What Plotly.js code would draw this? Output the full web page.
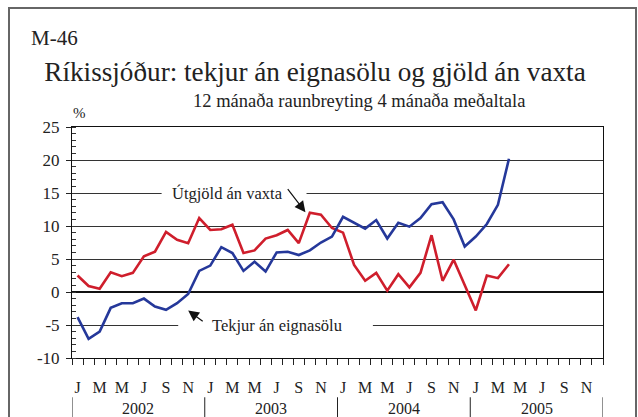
<!DOCTYPE html>
<html>
<head>
<meta charset="utf-8">
<script src="https://cdn.plot.ly/plotly-3.0.1.min.js"></script>
<style>
html,body{margin:0;padding:0;background:#fff;}
#chart{width:638px;height:417px;}
</style>
</head>
<body>
<div id="chart"></div>
<script>
// Months Jan 2002 .. Apr 2005 (index 0 = Jan 2002)
const monthIndex = [0,1,2,3,4,5,6,7,8,9,10,11,12,13,14,15,16,17,18,19,20,21,22,23,24,25,26,27,28,29,30,31,32,33,34,35,36,37,38,39];
// Útgjöld án vaxta (red)
const utgjold = [2.5,0.9,0.5,3.0,2.4,2.9,5.4,6.1,9.1,7.9,7.4,11.2,
                 9.4,9.5,10.2,5.9,6.3,8.1,8.6,9.4,7.4,12.0,11.7,9.7,
                 9.0,4.1,1.7,2.9,0.2,2.7,0.7,2.9,8.6,1.7,4.9,1.0,
                 -2.8,2.5,2.1,4.2];
// Tekjur án eignasölu (blue)
const tekjur = [-3.8,-7.1,-6.0,-2.4,-1.7,-1.7,-1.0,-2.2,-2.7,-1.7,-0.3,3.2,
                4.0,6.8,5.9,3.2,4.6,3.1,6.0,6.1,5.6,6.3,7.5,8.4,
                11.4,10.5,9.6,10.9,8.1,10.5,9.9,11.2,13.3,13.6,11.0,6.9,
                8.4,10.3,13.2,20.2];
const monthLabelPos = [0,2,4,6,8,10,12,14,16,18,20,22,24,26,28,30,32,34,36,38,40,42,44,46];
const monthLabels = ['J','M','M','J','S','N','J','M','M','J','S','N','J','M','M','J','S','N','J','M','M','J','S','N'];
const monthBoundaries = [];
for (let i = 0; i <= 48; i++) monthBoundaries.push(i - 0.5);
const years = ['2002','2003','2004','2005'];
const yearCenters = [5.5,17.5,29.5,41.5];
const yearSeparators = [-0.5,11.5,23.5,35.5,47.5];
const yTickVals = [-10,-5,0,5,10,15,20,25];
const yTickText = ['-10','-5','0','5','10','15','20','25'];

const serif = 'Liberation Serif, Times New Roman, serif';
const txt = '#222';

const traces = [
  {x: monthIndex, y: utgjold, type:'scatter', mode:'lines', line:{color:'#cf1e2c', width:2.6}, hoverinfo:'skip', name:'Útgjöld án vaxta'},
  {x: monthIndex, y: tekjur, type:'scatter', mode:'lines', line:{color:'#25389a', width:2.6}, hoverinfo:'skip', name:'Tekjur án eignasölu'},
  {x: [], y: [], xaxis:'x2', type:'scatter', mode:'lines', showlegend:false, hoverinfo:'skip'}
];

const shapes = [];
// year separators below the axis
yearSeparators.forEach(v => shapes.push({type:'line', xref:'x', yref:'paper', x0:v, x1:v, y0:-0.17, y1:-0.28, line:{color:'#222', width:1}}));
// white gaps in gridlines behind labels
shapes.push({type:'rect', xref:'x', yref:'y', x0:7.6, x1:20.7, y0:14.6, y1:15.4, fillcolor:'#fff', line:{width:0}, layer:'above'});
shapes.push({type:'rect', xref:'x', yref:'y', x0:9.1, x1:26.7, y0:-5.4, y1:-4.6, fillcolor:'#fff', line:{width:0}, layer:'above'});
// outer frame
shapes.push({type:'rect', xref:'paper', yref:'paper', x0:(9-72)/531, x1:(636-72)/531, y0:-0.5, y1:(358-8)/231, line:{color:'#666', width:2}, fillcolor:'rgba(0,0,0,0)'});

const annotations = [];
years.forEach((yr,i) => annotations.push({x:yearCenters[i], xref:'x', y:(358-408)/231, yref:'paper', text:yr, showarrow:false, font:{family:serif, size:16, color:txt}, yanchor:'middle'}));
annotations.push({x:(54-72)/531, xref:'paper', y:(358-38)/231, yref:'paper', text:'M-46', showarrow:false, font:{family:serif, size:21, color:txt}, xanchor:'center', yanchor:'middle'});
annotations.push({x:(359-72)/531, xref:'paper', y:(358-101)/231, yref:'paper', text:'12 mánaða raunbreyting 4 mánaða meðaltala', showarrow:false, font:{family:serif, size:18.5, color:txt}, xanchor:'center', yanchor:'middle'});
annotations.push({x:(79-72)/531, xref:'paper', y:(358-113)/231, yref:'paper', text:'%', showarrow:false, font:{family:serif, size:15, color:txt}, xanchor:'center', yanchor:'middle'});
annotations.push({x:13.56, xref:'x', y:15, yref:'y', text:'Útgjöld án vaxta', showarrow:false, font:{family:serif, size:16.5, color:txt}, xanchor:'center', yanchor:'middle'});
annotations.push({x:18.04, xref:'x', y:-5, yref:'y', text:'Tekjur án eignasölu', showarrow:false, font:{family:serif, size:16.5, color:txt}, xanchor:'center', yanchor:'middle'});
annotations.push({x:20.6, y:12.1, xref:'x', yref:'y', ax:18.9, ay:15.8, axref:'x', ayref:'y', text:'', showarrow:true, arrowhead:2, arrowsize:1.8, arrowwidth:1.2, arrowcolor:'#111'});
annotations.push({x:10.0, y:-2.8, xref:'x', yref:'y', ax:11.45, ay:-4.6, axref:'x', ayref:'y', text:'', showarrow:true, arrowhead:2, arrowsize:1.8, arrowwidth:1.2, arrowcolor:'#111'});

const layout = {
  width:638, height:417,
  margin:{l:72, r:35, t:127, b:59, pad:0},
  paper_bgcolor:'#fff', plot_bgcolor:'#fff',
  showlegend:false,
  title:{text:'Ríkissjóður: tekjur án eignasölu og gjöld án vaxta', font:{family:serif, size:27.2, color:txt}, x:315/638, xanchor:'center', y:1-71/417, yanchor:'middle', xref:'container', yref:'container'},
  xaxis:{range:[-0.5,47.5], tickmode:'array', tickvals:monthBoundaries, ticktext:monthBoundaries.map(()=>''), ticks:'outside', ticklen:6, tickcolor:'#222', showgrid:false, zeroline:false, showline:true, linecolor:'#111', linewidth:1, mirror:true, fixedrange:true},
  xaxis2:{range:[-0.5,47.5], overlaying:'x', anchor:'y', side:'bottom', tickmode:'array', tickvals:monthLabelPos, ticktext:monthLabels, ticks:'', ticklabelstandoff:18, showgrid:false, zeroline:false, showline:false, tickfont:{family:serif, size:16, color:txt}, fixedrange:true},
  yaxis:{range:[-10,25], tickmode:'array', tickvals:yTickVals, ticktext:yTickText, ticks:'outside', ticklen:5, tickcolor:'#222', ticklabelstandoff:3,
         minor:{tickmode:'linear', tick0:0, dtick:1, ticks:'inside', ticklen:4, tickcolor:'#333', showgrid:false},
         showgrid:true, gridcolor:'#333', gridwidth:1, zeroline:true, zerolinecolor:'#111', zerolinewidth:1.2,
         showline:true, linecolor:'#111', linewidth:1, mirror:true, tickfont:{family:serif, size:17, color:txt}, fixedrange:true},
  shapes: shapes,
  annotations: annotations
};
Plotly.newPlot('chart', traces, layout, {staticPlot:true, displayModeBar:false});
</script>
</body>
</html>
